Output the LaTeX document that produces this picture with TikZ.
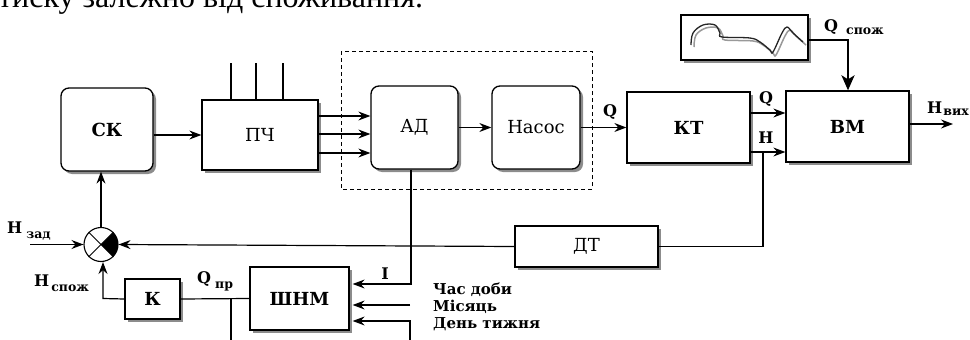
\documentclass[tikz,border=0pt]{standalone}
\usepackage{fontspec}
\setmainfont{DejaVu Serif}
\newfontfamily\bodyfont{Liberation Serif}
\usetikzlibrary{arrows.meta,shadows,calc}
\newcommand{\sublab}[4]{\textbf{#1}\kern#3pt\raisebox{-#4pt}{\fontsize{12.5}{13}\selectfont\textbf{#2}}}
\begin{document}
\begin{tikzpicture}[x=1pt,y=-1pt,
  blk/.style={draw, line width=1.3pt, fill=white, inner sep=0pt,
    drop shadow={shadow xshift=3pt, shadow yshift=-3pt, fill=black!45, opacity=1},
    font=\fontsize{18}{20}\selectfont},
  rblk/.style={blk, rounded corners=8pt},
  arr/.style={-{Stealth[length=12pt,width=9pt,inset=4pt]}, line width=1.2pt},
  ln/.style={line width=1.2pt},
  lab/.style={inner sep=0pt, font=\fontsize{16}{18}\selectfont\bfseries},
  sml/.style={inner sep=0pt, anchor=west, font=\fontsize{15}{17}\selectfont\bfseries},
  sublabel/.style={inner sep=0pt, anchor=base west, font=\fontsize{16}{18}\selectfont}
]
\useasboundingbox (0,0) rectangle (970,340);
\clip (0,0) rectangle (970,340);

% cut-off text line at the top
\node[anchor=base west, inner sep=0pt, font=\bodyfont\fontsize{32}{34}\selectfont] (toptext) at (-2,7) {тиску залежно від споживання.};

% blocks
\node[rblk, minimum width=92pt, minimum height=83pt] (sk) at (107,129.5) {\textbf{СК}};
\node[blk, minimum width=116pt, minimum height=70pt] (pch) at (260,135) {ПЧ};
\node[rblk, minimum width=87pt, minimum height=83pt] (ad) at (414.5,127.5) {АД};
\node[rblk, minimum width=88pt, minimum height=83pt] (nas) at (536,127.5) {Насос};
\node[blk, minimum width=123pt, minimum height=71pt] (kt) at (688.5,127.5) {\textbf{КТ}};
\node[blk, minimum width=123pt, minimum height=71pt] (vm) at (847.5,126.5) {\textbf{ВМ}};
\node[blk, minimum width=127pt, minimum height=45pt] (wave) at (744.5,37.5) {};
\node[blk, minimum width=143pt, minimum height=41pt] (dt) at (586.5,246.5) {ДТ};
\node[blk, minimum width=55pt, minimum height=40pt] (k) at (152.5,299) {\textbf{К}};
\node[blk, minimum width=99pt, minimum height=63pt] (shnm) at (299.5,298.5) {\textbf{ШНМ}};

% dashed frame
\draw[line width=1pt, dash pattern=on 4pt off 3pt] (341,51) rectangle (592,189);

% wave inside the box
\draw[black!40, line width=1.5pt] plot[smooth, tension=0.6] coordinates {(694,47) (696,35) (706,28) (718,28) (723,36) (725,40) (753,41) (763,45) (773,53) (776,55) (785,36) (790,30) (796,36) (806,45)};
\draw[black!85, line width=1.3pt] plot[smooth, tension=0.6] coordinates {(691,45) (693,33) (703,25) (715,25) (720,33) (722,37) (750,38) (760,42) (770,50) (773,52) (782,33) (787,27) (793,33) (803,42)};

% three supply lines into ПЧ
\foreach \xx/\nm in {231/pa,256/pb,283/pc} {
  \coordinate (\nm) at (\xx,63);
  \draw[ln] (\nm) -- (\nm |- pch.north);
}

% forward path
\draw[arr] (sk.east |- pch.west) -- (pch.west);
\foreach \yy in {116,134,153} \draw[arr] (pch.east |- 0,\yy) -- (ad.west |- 0,\yy);
\draw[arr] (ad.east) -- (nas.west);
\draw[arr] (nas.east) -- (kt.west);
\node[lab] (lq1) at (610,112) {Q};
\draw[arr] (kt.east |- 0,113) -- (vm.west |- 0,113);
\draw[arr] (kt.east |- 0,152) -- (vm.west |- 0,152);
\node[lab] (lq2) at (766,99) {Q};
\node[lab] (lh2) at (766,138) {H};
\coordinate (vout) at (953,124);
\draw[arr] (vm.east |- vout) -- (vout);
\node[sublabel] (lhv) at (927,113) {\sublab{H}{вих}{1}{2.5}};

% consumption input
\coordinate (qc) at (848,40);
\draw[line width=2.4pt, -{Stealth[length=15pt,width=13pt,inset=4pt]}] (wave.east |- qc) -- (qc) -- (qc |- vm.north);
\node[sublabel] (lqc) at (824,31.5) {\sublab{Q}{спож}{8}{2.5}};

% summing junction
\node[circle, draw, line width=1.1pt, minimum size=34pt, inner sep=0pt, fill=white] (sum) at (101,244.5) {};
\begin{scope}[shift={(sum.center)}, x=1pt, y=1pt]
  \fill (0,0) -- (-45:17) arc[start angle=-45, end angle=45, radius=17] -- cycle;
\end{scope}
\draw[line width=0.9pt] (sum.north west) -- (sum.south east);
\draw[line width=0.9pt] (sum.north east) -- (sum.south west);

\draw[arr] (sum.north) -- (sk.south -| sum.north);
\coordinate (hz) at (30,244.5);
\draw[arr] (hz) -- (sum.west);
\node[sublabel] (lhz) at (7,233) {\sublab{H}{зад}{4}{5.5}};

% feedback from the pressure sensor
\coordinate (fbt) at (763,152);
\draw[ln] (fbt) -- (fbt |- dt.east) -- (dt.east);
\draw[arr] (dt.west) -- (sum.east);

% current from АД to ШНМ
\coordinate (ib) at (411,284);
\draw[arr] (ad.south -| ib) -- (ib) -- ([xshift=3pt]shnm.east |- ib);
\node[lab] (li) at (385,274) {I};

% other inputs of ШНМ
\coordinate (mo) at (410,305);
\draw[arr] (mo) -- ([xshift=3pt]shnm.east |- mo);
\coordinate (dw) at (410,321);
\draw[arr] (410,345) -- (dw) -- ([xshift=3pt]shnm.east |- dw);
\node[sml] (t1) at (433,290) {Час доби};
\node[sml] (t2) at (433,307) {Місяць};
\node[sml] (t3) at (433,324) {День тижня};

% ШНМ -> К -> junction
\draw[ln] (shnm.west) -- (k.east);
\coordinate (qpr) at (231,298.5);
\draw[ln] (qpr) -- (231,345);
\node[sublabel] (lqp) at (197,283) {\sublab{Q}{пр}{4}{5}};
\coordinate (kc) at (103,298.5);
\draw[arr] (k.west) -- (kc) -- (kc |- sum.south);
\node[sublabel] (lhs) at (34,286) {\sublab{H}{спож}{2}{5.5}};
\end{tikzpicture}
\end{document}
